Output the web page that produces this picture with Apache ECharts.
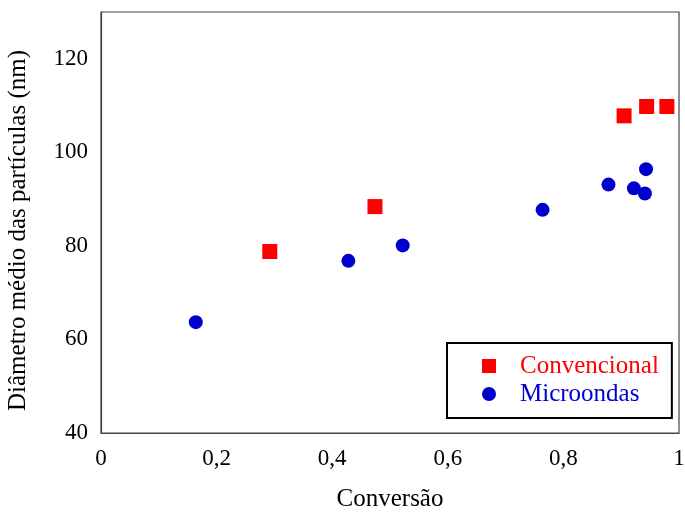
<!DOCTYPE html>
<html>
<head>
<meta charset="utf-8">
<script src="https://cdn.jsdelivr.net/npm/echarts@6/dist/echarts.min.js"></script>
<style>html,body{margin:0;padding:0;background:#fff;}#c{width:685px;height:512px;}</style>
</head>
<body>
<div id="c"></div>
<script>
const convencionalX = [0.292, 0.474, 0.905, 0.944, 0.979];
const convencionalY = [78.8, 88.4, 107.8, 109.8, 109.8];
const microondasX = [0.164, 0.428, 0.522, 0.764, 0.878, 0.922, 0.941, 0.943];
const microondasY = [63.7, 76.8, 80.1, 87.7, 93.1, 92.3, 91.2, 96.4];
const xTickLabels = {0: '0', 0.2: '0,2', 0.4: '0,4', 0.6: '0,6', 0.8: '0,8', 1: '1'};
const seriesNames = ['Convencional', 'Microondas'];
const xTitle = 'Conversão';
const yTitle = 'Diâmetro médio das partículas (nm)';

const font = '"Liberation Serif", "Times New Roman", serif';
const chart = echarts.init(document.getElementById('c'), null, {renderer: 'canvas'});
chart.setOption({
  animation: false,
  backgroundColor: '#fff',
  grid: {left: 101, top: 12, width: 578, height: 421, outerBoundsMode: 'none', containLabel: false,
    show: true, borderColor: '#444', borderWidth: 1.2, backgroundColor: 'transparent'},
  xAxis: {
    type: 'value', min: 0, max: 1, interval: 0.2,
    name: xTitle, nameLocation: 'middle', nameGap: 54,
    nameTextStyle: {fontFamily: font, fontSize: 25, color: '#000'},
    axisLine: {show: true, lineStyle: {color: '#444', width: 1.2}},
    axisTick: {show: false}, splitLine: {show: false},
    axisLabel: {margin: 14, fontFamily: font, fontSize: 23, color: '#000',
      formatter: v => xTickLabels[Math.round(v * 10) / 10] ?? ''}
  },
  yAxis: {
    type: 'value', min: 40, max: 130, interval: 20,
    name: yTitle, nameLocation: 'middle', nameGap: 70,
    nameTextStyle: {fontFamily: font, fontSize: 25, color: '#000', padding: [0, 16, 0, 0]},
    axisLine: {show: true, lineStyle: {color: '#444', width: 1.2}},
    axisTick: {show: false}, splitLine: {show: false},
    axisLabel: {margin: 13, fontFamily: font, fontSize: 23, color: '#000',
      formatter: v => (v % 20 === 0 ? String(v) : '')}
  },
  legend: {
    orient: 'vertical', left: 447, top: 343,
    borderColor: '#000', borderWidth: 2, padding: [9, 13, 10, 35],
    itemWidth: 14, itemHeight: 14, itemGap: 0,
    textStyle: {fontFamily: font, fontSize: 25, lineHeight: 28, padding: [0, 0, 0, 19]},
    data: [
      {name: seriesNames[0], icon: 'rect', textStyle: {color: '#ff0000'}},
      {name: seriesNames[1], icon: 'circle', textStyle: {color: '#0000cc'}}
    ]
  },
  series: [
    {name: seriesNames[0], type: 'scatter', symbol: 'rect', symbolSize: 15,
      itemStyle: {color: '#ff0000', opacity: 1},
      data: convencionalX.map((x, i) => [x, convencionalY[i]])},
    {name: seriesNames[1], type: 'scatter', symbol: 'circle', symbolSize: 14,
      itemStyle: {color: '#0000cc', opacity: 1},
      data: microondasX.map((x, i) => [x, microondasY[i]])}
  ]
});
</script>
</body>
</html>
